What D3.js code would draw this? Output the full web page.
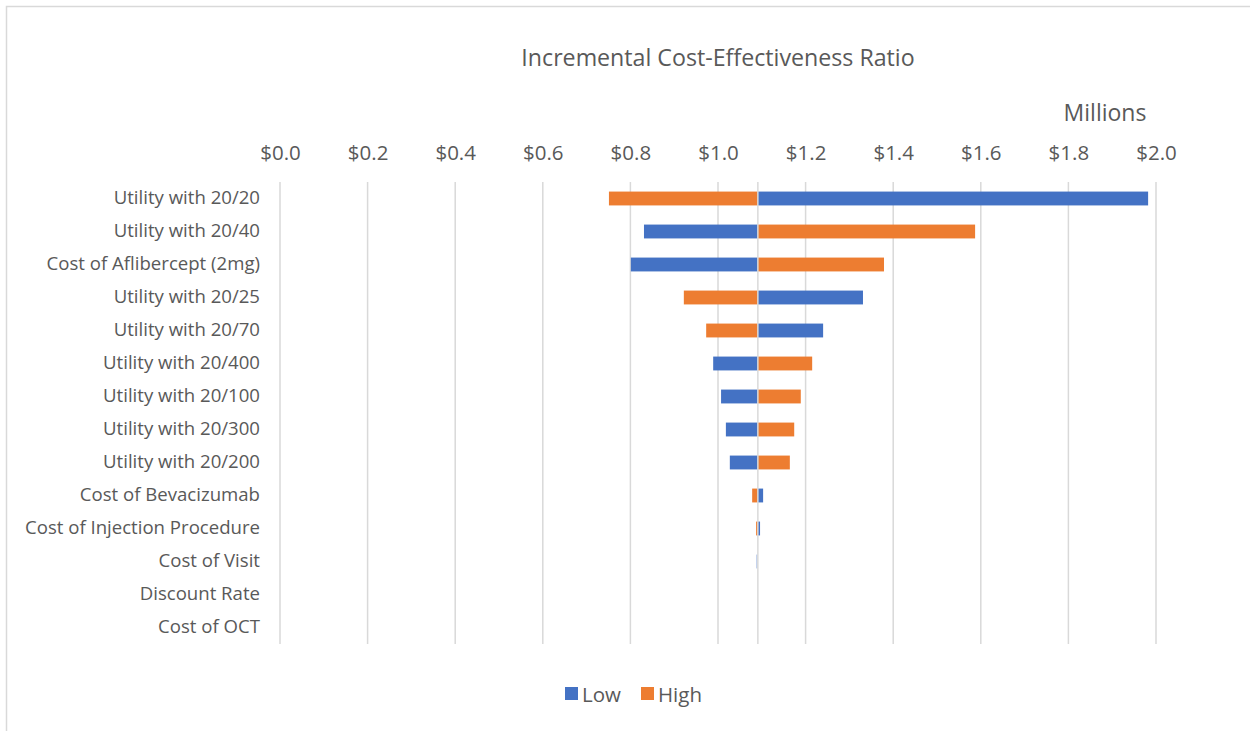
<!DOCTYPE html>
<html>
<head>
<meta charset="utf-8">
<script src="https://cdn.jsdelivr.net/npm/d3@7"></script>
<style>
  body { margin: 0; background: #fff; }
  text { font-family: "Open Sans", sans-serif; fill: #595959; }
</style>
</head>
<body>
<svg id="chart"></svg>
<script>
// Tornado data (ICER, $ millions)
const categories = [
    "Utility with 20/20", "Utility with 20/40", "Cost of Aflibercept (2mg)",
    "Utility with 20/25", "Utility with 20/70", "Utility with 20/400",
    "Utility with 20/100", "Utility with 20/300", "Utility with 20/200",
    "Cost of Bevacizumab", "Cost of Injection Procedure", "Cost of Visit",
    "Discount Rate", "Cost of OCT"
];
const baseValue = 1.091;
const lowValues = [1.982, 0.831, 0.801, 1.331, 1.240, 0.989, 1.007, 1.018, 1.027, 1.103, 1.096, 1.087, 1.091, 1.091];
const highValues = [0.751, 1.587, 1.379, 0.922, 0.973, 1.215, 1.189, 1.174, 1.164, 1.078, 1.087, 1.091, 1.091, 1.091];
const tickValues = [0, 0.2, 0.4, 0.6, 0.8, 1.0, 1.2, 1.4, 1.6, 1.8, 2.0];
const seriesNames = ["Low", "High"];
const colors = ["#4472C4", "#ED7D31"];

const W = 1250, H = 731;
const svg = d3.select("#chart").attr("width", W).attr("height", H);

// outer chart border
svg.append("rect")
    .attr("x", 6.5).attr("y", 6.5)
    .attr("width", W).attr("height", H)
    .attr("fill", "none").attr("stroke", "#d9d9d9").attr("stroke-width", 1.5);

const plot = { left: 280, right: 1156, top: 182, bottom: 644 };

const x = d3.scaleLinear().domain([0, 2]).range([plot.left, plot.right]);
const y = d3.scaleBand().domain(categories).range([plot.top, plot.bottom]).paddingInner(0.58).paddingOuter(0.29);

// gridlines
svg.append("g")
    .selectAll("line")
    .data(tickValues)
    .join("line")
    .attr("x1", d => x(d)).attr("x2", d => x(d))
    .attr("y1", plot.top).attr("y2", plot.bottom)
    .attr("stroke", "#d9d9d9").attr("stroke-width", 1.5);

// top axis labels
const xAxis = d3.axisTop(x).tickValues(tickValues).tickSize(0).tickPadding(0)
    .tickFormat(d => "$" + d3.format(".1f")(d));
const gx = svg.append("g")
    .attr("transform", `translate(0,${160})`)
    .call(xAxis);
gx.select(".domain").remove();
gx.selectAll("text").attr("font-size", 20.5).style("font-family", "'Open Sans', sans-serif").attr("fill", "#595959");

// category labels
const yAxis = d3.axisLeft(y).tickSize(0).tickPadding(20);
const gy = svg.append("g")
    .attr("transform", `translate(${plot.left},0)`)
    .call(yAxis);
gy.select(".domain").remove();
gy.selectAll("text").attr("font-size", 18.6).style("font-family", "'Open Sans', sans-serif").attr("fill", "#595959");

// bars: each series drawn from the base value to its value
const rows = categories.map((c, i) => ({ cat: c, low: lowValues[i], high: highValues[i] }));
[["low", 0], ["high", 1]].forEach(([key, ci]) => {
    svg.append("g")
        .selectAll("rect")
        .data(rows.filter(d => Math.abs(d[key] - baseValue) > 0.0005))
        .join("rect")
        .attr("x", d => x(Math.min(d[key], baseValue)))
        .attr("width", d => Math.abs(x(d[key]) - x(baseValue)))
        .attr("y", d => y(d.cat))
        .attr("height", y.bandwidth())
        .attr("fill", colors[ci])
        .attr("opacity", d => Math.abs(d[key] - baseValue) < 0.005 && key === "low" && d.cat === "Cost of Visit" ? 0.35 : 1);
});

// base line over bars
svg.append("line")
    .attr("x1", x(baseValue)).attr("x2", x(baseValue))
    .attr("y1", plot.top).attr("y2", plot.bottom)
    .attr("stroke", "#d9d9d9").attr("stroke-width", 1.5);

// title
svg.append("text")
    .attr("x", 718).attr("y", 66)
    .attr("text-anchor", "middle")
    .attr("font-size", 23.2)
    .text("Incremental Cost-Effectiveness Ratio");

// display units label
svg.append("text")
    .attr("x", 1105).attr("y", 121)
    .attr("text-anchor", "middle")
    .attr("font-size", 23)
    .text("Millions");

// legend
const legend = svg.append("g").attr("transform", "translate(565,694)");
const items = [{ name: seriesNames[0], c: colors[0], dx: 0 }, { name: seriesNames[1], c: colors[1], dx: 76 }];
items.forEach(it => {
    legend.append("rect").attr("x", it.dx).attr("y", -7).attr("width", 13).attr("height", 13).attr("fill", it.c);
    legend.append("text").attr("x", it.dx + 17).attr("y", 7.5).attr("font-size", 20.5).text(it.name);
});
</script>
</body>
</html>
